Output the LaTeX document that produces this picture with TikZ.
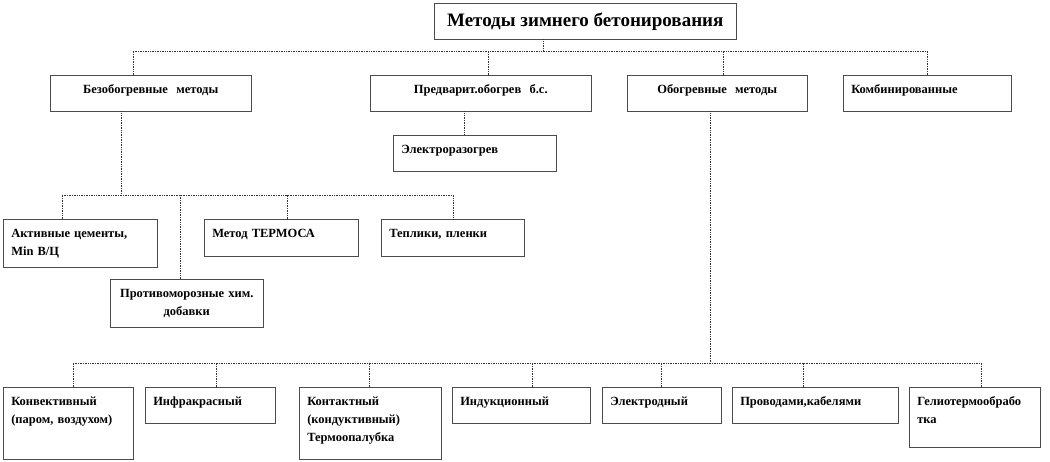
\documentclass[tikz,border=0pt]{standalone}
\usepackage{fontspec}
\setmainfont{Liberation Serif}
\usetikzlibrary{shadows}

\begin{document}
\begin{tikzpicture}[x=1pt, y=-1pt,
  box/.style={draw=black!70, fill=white, line width=0.5pt, anchor=north west, inner xsep=8pt, inner ysep=0pt, font=\fontsize{12.5}{18}\selectfont\bfseries, text height=18pt, drop shadow={shadow xshift=1pt, shadow yshift=-1pt, fill=black, opacity=1}},
  lbox/.style 2 args={box, text width=#1, text depth=#2, align=left},
  cbox/.style 2 args={box, text width=#1, text depth=#2, align=center},
  titlebox/.style={draw=black!70, fill=white, line width=0.5pt, anchor=north west, minimum width=302pt, minimum height=36pt, inner sep=0pt, font=\fontsize{19}{22}\selectfont\bfseries, drop shadow={shadow xshift=1pt, shadow yshift=-1pt, fill=black, opacity=1}},
  conn/.style={densely dotted, line width=0.7pt, black!80}
]
\useasboundingbox (0,0) rectangle (1050,462);

% Title
\node[titlebox] (title) at (434,3) {Методы зимнего бетонирования};

% Level 1
\node[cbox={185pt}{18pt}] (bez) at (50,75) {Безобогревные\ \ методы};
\node[cbox={205pt}{18pt}] (pred) at (370,75) {Предварит.обогрев\ \ б.с.};
\node[cbox={164pt}{18pt}] (obog) at (627,75) {Обогревные\ \ методы};
\node[lbox={152pt}{18pt}] (komb) at (843,75) {Комбинированные};
\node[lbox={147pt}{18pt}] (elraz) at (393,135) {Электроразогрев};

% Bezobogrevnye
\node[lbox={138pt}{30pt}] (akt) at (3,219) {Активные цементы,\\Min В/Ц};
\node[cbox={137pt}{30pt}] (prot) at (110,279) {Противоморозные хим.\\добавки};
\node[lbox={138pt}{19pt}] (term) at (204,219) {Метод ТЕРМОСА};
\node[lbox={127pt}{19pt}] (tepl) at (381,219) {Теплики, пленки};

% Obogrevnye
\node[lbox={114pt}{54pt}] (konv) at (3,387) {Конвективный\\(паром, воздухом)};
\node[lbox={114pt}{18pt}] (infr) at (145,387) {Инфракрасный};
\node[lbox={126pt}{54pt}] (kont) at (299,387) {Контактный\\(кондуктивный)\\Термоопалубка};
\node[lbox={122pt}{18pt}] (indu) at (452,387) {Индукционный};
\node[lbox={103pt}{18pt}] (elek) at (602,387) {Электродный};
\node[lbox={150pt}{18pt}] (prov) at (732,387) {Проводами,кабелями};
\node[lbox={115pt}{42pt}] (geli) at (909,387) {Гелиотермообрабо\\тка};

% Connectors
\draw[conn] (title.south -| 543,0) -- ++(0,12);
\draw[conn] (bez.north -| 133,0) -- ++(0,-24) -| (komb.north -| 927,0);
\draw[conn] (pred.north -| 488,0) -- ++(0,-24);
\draw[conn] (obog.north -| 723,0) -- ++(0,-24);
\draw[conn] (pred.south -| 464,0) -- (elraz.north -| 464,0);

\coordinate (bezbus) at (121,195);
\draw[conn] (bez.south -| bezbus) -- (bezbus);
\draw[conn] (akt.north -| 62,0) -- ++(0,-24) -| (tepl.north -| 453,0);
\draw[conn] (prot.north -| 180,0) -- ++(0,-84);
\draw[conn] (term.north -| 287,0) -- ++(0,-24);

\coordinate (obus) at (710,363);
\draw[conn] (obog.south -| obus) -- (obus);
\draw[conn] (konv.north -| 73,0) -- ++(0,-24) -| (geli.north -| 981,0);
\foreach \x/\n in {216/infr, 369/kont, 532/indu, 661/elek, 803/prov}
  \draw[conn] (\n.north -| \x,0) -- ++(0,-24);

\end{tikzpicture}
\end{document}
